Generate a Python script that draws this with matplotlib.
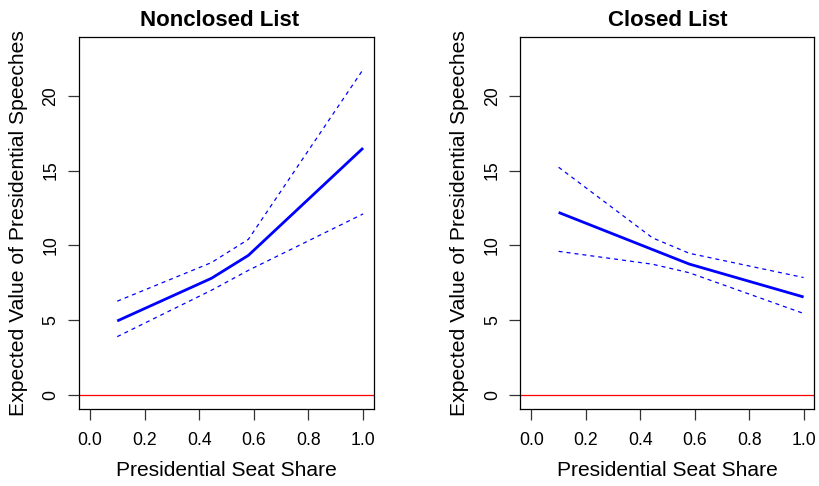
import matplotlib
matplotlib.use("Agg")
import matplotlib.pyplot as plt

plt.rcParams['font.family'] = ['Liberation Sans', 'DejaVu Sans']

# Data
seat_share = [0.1, 0.445, 0.58, 1.0]

nc_mean = [4.95, 7.8, 9.33, 16.5]
nc_upper = [6.27, 8.85, 10.4, 21.75]
nc_lower = [3.9, 7.0, 8.33, 12.1]

cl_mean = [12.2, 9.72, 8.75, 6.55]
cl_upper = [15.22, 10.5, 9.47, 7.85]
cl_lower = [9.6, 8.74, 8.17, 5.45]

titles = ["Nonclosed List", "Closed List"]
xlabel = "Presidential Seat Share"
ylabel = "Expected Value of Presidential Speeches"
xticks = [0.0, 0.2, 0.4, 0.6, 0.8, 1.0]
xticklabels = ["0.0", "0.2", "0.4", "0.6", "0.8", "1.0"]
yticks = [0, 5, 10, 15, 20]

W, H = 820, 486
fig = plt.figure(figsize=(W / 100, H / 100), dpi=100)

boxes = [(79, 374), (520.5, 814.5)]
title_x = [0.5 - 7 / 295, 0.5]
top_px, bot_px = 37.5, 409

series = [(nc_mean, nc_upper, nc_lower), (cl_mean, cl_upper, cl_lower)]

for (l, r), title, tx, (m, u, lo) in zip(boxes, titles, title_x, series):
    ax = fig.add_axes([l / W, 1 - bot_px / H, (r - l) / W, (bot_px - top_px) / H])
    ax.plot(seat_share, m, color='#0000ff', lw=2.0, solid_capstyle='butt')
    ax.plot(seat_share, u, color='#0000ff', lw=0.9, dashes=(3.2, 3.2))
    ax.plot(seat_share, lo, color='#0000ff', lw=0.9, dashes=(3.2, 3.2))
    ax.axhline(0, color='#ff0000', lw=0.9)
    ax.set_xlim(-0.04, 1.04)
    ax.set_ylim(-0.935, 23.89)
    ax.set_xticks(xticks)
    ax.set_xticklabels(xticklabels)
    ax.set_yticks(yticks)
    ax.set_yticklabels([str(v) for v in yticks], rotation=90, va='center')
    ax.tick_params(direction='out', length=8, width=0.9, labelsize=12.7, color='#333333')
    ax.tick_params(axis='x', pad=8.5)
    ax.tick_params(axis='y', pad=6)
    for s in ax.spines.values():
        s.set_linewidth(0.9)
    ax.set_title(title, fontsize=16, fontweight='bold', pad=8, x=tx)
    ax.set_xlabel(xlabel, fontsize=15.1, labelpad=9)
    ax.set_ylabel(ylabel, fontsize=15.2, labelpad=10.5)

fig.savefig("out.png", dpi=100)
